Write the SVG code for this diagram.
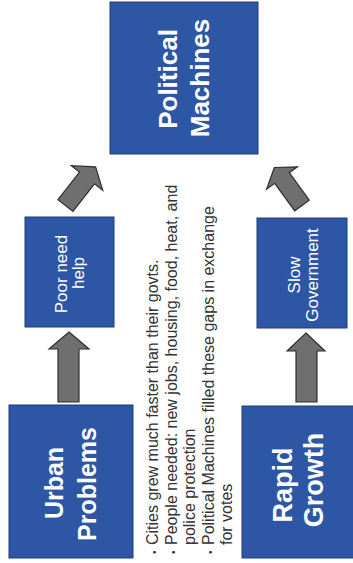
<svg xmlns="http://www.w3.org/2000/svg" width="353" height="563" viewBox="0 0 353 563">
<style>
.box{fill:#2d56a4;stroke:#1d3c82;stroke-width:1}
.t{fill:#ffffff;font-family:"Liberation Sans",Arial,sans-serif;text-anchor:middle}
.big{font-size:26px;font-weight:bold}
.small{font-size:17px}
.arrow{fill:#6f6f6f;stroke:#2e2e2e;stroke-width:1.2;stroke-linejoin:miter}
.note{fill:#333333;font-family:"Liberation Sans",Arial,sans-serif;font-size:16px}
</style>
<rect width="353" height="563" fill="#ffffff"/>
<g id="connectors">
<path class="arrow" d="M69,332 L89,349 L79,349 L79,402 L58,402 L58,349 L49,349 Z"/>
<path class="arrow" d="M306,333 L325,351 L317,351 L317,402 L296,402 L296,351 L287,351 Z"/>
<path class="arrow" transform="translate(87,178) rotate(-52)" d="M14,0 L0,-20 L0,-9.5 L-35,-9.5 L-35,9.5 L0,9.5 L0,20 Z"/>
<path class="arrow" transform="translate(282,178) rotate(-126)" d="M13,0 L0,-19 L0,-9 L-34,-9 L-34,9 L0,9 L0,19 Z"/>
</g>
<g id="political-machines">
<rect class="box" x="110" y="2" width="148" height="152"/>
<text class="t big" transform="translate(177,79) rotate(-90)">Political</text>
<text class="t big" transform="translate(209,78) rotate(-90)">Machines</text>
</g>
<g id="poor-need-help">
<rect class="box" x="25" y="217" width="89" height="110"/>
<text class="t small" transform="translate(67,274) rotate(-90)">Poor need</text>
<text class="t small" transform="translate(84,273) rotate(-90)">help</text>
</g>
<g id="slow-government">
<rect class="box" x="257" y="218" width="90" height="110"/>
<text class="t small" transform="translate(300,275) rotate(-90)">Slow</text>
<text class="t small" transform="translate(318,275) rotate(-90)">Government</text>
</g>
<g id="urban-problems">
<rect class="box" x="9" y="405" width="124" height="153"/>
<text class="t big" style="font-size:25px" transform="translate(63,483) rotate(-90)">Urban</text>
<text class="t big" style="font-size:25px" transform="translate(96,484) rotate(-90)">Problems</text>
</g>
<g id="rapid-growth">
<rect class="box" x="242" y="406" width="115" height="152"/>
<text class="t big" style="font-size:27px" transform="translate(292,485) rotate(-90)">Rapid</text>
<text class="t big" style="font-size:27px" transform="translate(323,480) rotate(-90)">Growth</text>
</g>
<g id="notes">
<text class="note" transform="translate(158,554) rotate(-90)"><tspan font-size="10">•</tspan><tspan x="9">Cities grew much faster than their govts.</tspan></text>
<text class="note" transform="translate(176.5,554) rotate(-90)"><tspan font-size="10">•</tspan><tspan x="9">People needed: new jobs, housing, food, heat, and</tspan></text>
<text class="note" transform="translate(195,545) rotate(-90)">police protection</text>
<text class="note" transform="translate(213.5,554) rotate(-90)"><tspan font-size="10">•</tspan><tspan x="9">Political Machines filled these gaps in exchange</tspan></text>
<text class="note" transform="translate(232,545) rotate(-90)">for votes</text>
</g>
</svg>
